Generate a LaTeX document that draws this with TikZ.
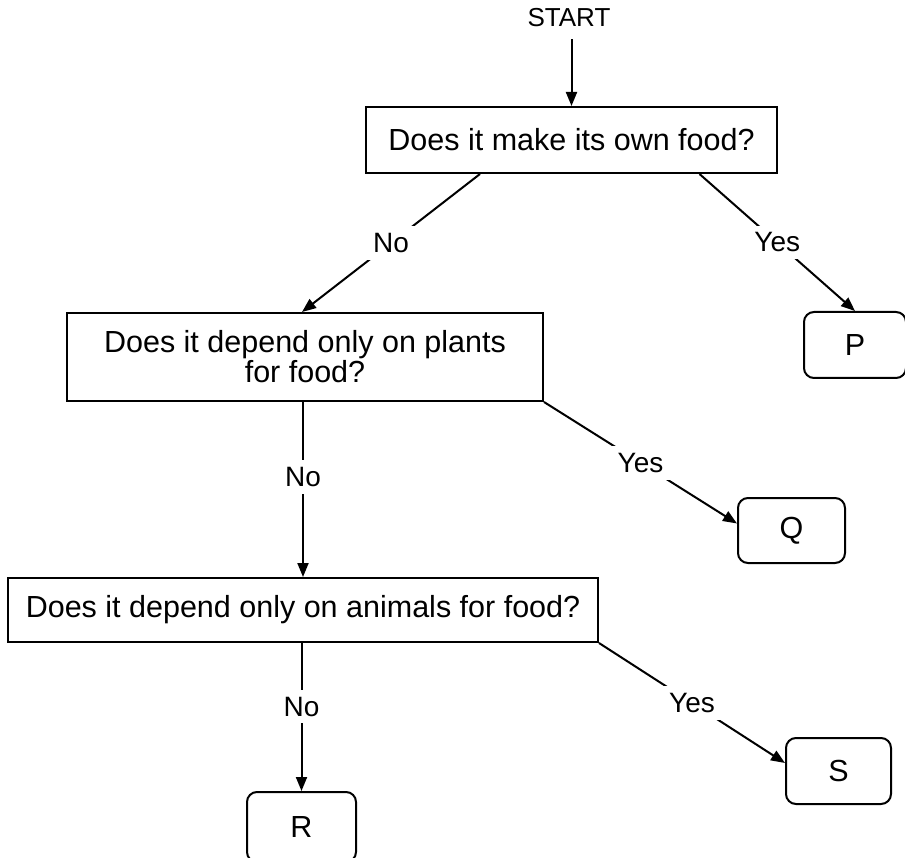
\documentclass[tikz,border=0pt]{standalone}
\usepackage{fontspec}
\setmainfont{Liberation Sans}
\usetikzlibrary{arrows.meta,calc}

\tikzset{
  qbox/.style={draw, line width=2pt, inner sep=0pt, align=center,
    font=\fontsize{30.5}{30}\selectfont},
  endbox/.style={draw, line width=2pt, rounded corners=10pt, inner sep=0pt,
    font=\fontsize{30.5}{30}\selectfont},
  flow/.style={line width=2pt, -{Triangle[length=14pt,width=11pt]}},
  ans/.style={fill=white, inner sep=7pt, font=\fontsize{28}{28}\selectfont},
}

\begin{document}
\begin{tikzpicture}[x=1pt, y=-1pt, line cap=butt, line join=miter]
  \useasboundingbox (0,0) rectangle (905,858);

  % start and the three questions
  \node[inner sep=12pt, font=\fontsize{26}{26}\selectfont] (start) at (569,18) {START};
  \node[qbox, minimum width=411pt, minimum height=66pt] (own) at (571.5,140)
    {Does it make its own food?};
  \node[qbox, minimum width=476pt, minimum height=88pt] (plants) at (305,357)
    {Does it depend only on plants\\for food?};
  \node[qbox, minimum width=590pt, minimum height=64pt] (animals) at (303,610)
    {Does it depend only on animals for food?};

  % answers (P runs off the right edge, R off the bottom)
  \node[endbox, minimum width=102pt, minimum height=66pt] (p) at (855,345) {P};
  \node[endbox, minimum width=107pt, minimum height=65pt] (q) at (791.5,530.5) {Q};
  \node[endbox, minimum width=109pt, minimum height=70pt] (r) at (301.5,827) {R};
  \node[endbox, minimum width=105pt, minimum height=66pt] (s) at (838.5,771) {S};

  % connectors, the label sits on the line with a white patch
  \draw[flow] (start.south -| own.north) -- (own.north);
  \draw[flow] ([xshift=-91.5pt]own.south) -- node[ans] {No} ([xshift=-3pt]plants.north);
  \draw[flow] ([xshift=128pt]own.south) -- node[ans] {Yes} (p.north);
  \draw[flow] (animals.north |- plants.south) -- node[ans, pos=0.43] {No} (animals.north);
  \draw[flow] (plants.south east) -- node[ans] {Yes} ([yshift=7pt]q.west);
  \draw[flow] (r.north |- animals.south) -- node[ans, pos=0.43] {No} (r.north);
  \draw[flow] (animals.south east) -- node[ans] {Yes} ([yshift=8pt]s.west);
\end{tikzpicture}
\end{document}
